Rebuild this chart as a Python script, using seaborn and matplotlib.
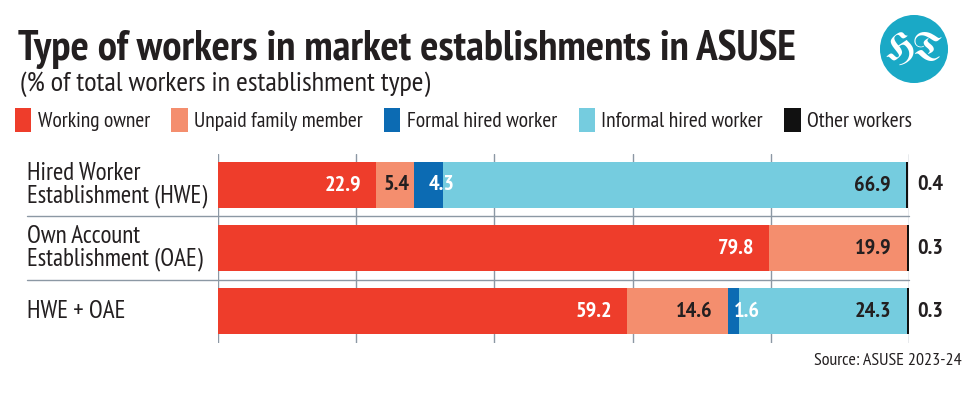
import numpy as np
import pandas as pd
import matplotlib
matplotlib.use("Agg")
import matplotlib.pyplot as plt
from matplotlib.patches import Patch, Circle
import seaborn as sns

# ========== DATOS ==========
categories = ["Hired Worker\nEstablishment (HWE)", "Own Account\nEstablishment (OAE)", "HWE + OAE"]
series_names = ["Working owner", "Unpaid family member", "Formal hired worker",
                "Informal hired worker", "Other workers"]
working_owner = [22.9, 79.8, 59.2]
unpaid_family = [5.4, 19.9, 14.6]
formal_hired = [4.3, 0.0, 1.6]
informal_hired = [66.9, 0.0, 24.3]
other_workers = [0.4, 0.3, 0.3]

colors = ["#EE3D2B", "#F48E6E", "#0C6BB3", "#75CCDF", "#111111"]
label_colors = ["white", "#231F20", "white", "#231F20", "#231F20"]
x_ticks = [0, 20, 40, 60, 80, 100]

# ========== ESTILO ==========
sns.set_theme(style="white")
plt.rcParams["font.family"] = ["PT Sans Narrow", "Roboto Condensed", "DejaVu Sans"]
dark = "#231F20"

df = pd.DataFrame({
    "category": categories,
    series_names[0]: working_owner,
    series_names[1]: unpaid_family,
    series_names[2]: formal_hired,
    series_names[3]: informal_hired,
    series_names[4]: other_workers,
})
cum = df[series_names].cumsum(axis=1)

fig = plt.figure(figsize=(9.7, 4.03), dpi=100)
ax = fig.add_axes([218 / 970, 1 - 343 / 403, 691 / 970, 189 / 403])

# barras apiladas: se dibuja el acumulado de atrás hacia delante
for i in range(len(series_names) - 1, -1, -1):
    sns.barplot(x=cum[series_names[i]], y=df["category"], color=colors[i],
                orient="h", width=0.73, ax=ax, saturation=1, linewidth=0)

ax.set_xlim(0, 100)
ax.set_ylim(2.5, -0.49)
ax.set_xticks(x_ticks)
ax.set_xticklabels([])
ax.set_yticklabels([])
ax.set_xlabel("")
ax.set_ylabel("")
ax.tick_params(length=0)
ax.grid(axis="x", color="#8C98A4", linewidth=1)
ax.set_axisbelow(True)
for s in ax.spines.values():
    s.set_visible(False)

# separadores horizontales
for yy in [0.49, 1.5]:
    ax.axhline(yy, xmin=-0.276, xmax=1.0, color="#8C98A4", linewidth=1, clip_on=False)

# etiquetas de categoría
for j, cat in enumerate(categories):
    ax.text(-0.276, j, cat, transform=ax.get_yaxis_transform(), ha="left", va="center",
            fontsize=18, color=dark, linespacing=0.98)

# etiquetas de valores
for j in range(len(categories)):
    left = 0
    for i, name in enumerate(series_names[:-1]):
        v = df.loc[j, name]
        if v > 0:
            if v < 5:
                ax.text(left + v / 2, j, f"{v:.1f}", ha="left", va="center", fontsize=16,
                        fontweight="bold", color=label_colors[i])
            else:
                pad = 0.6 if v < 8 else 2.2
                ax.text(left + v - pad, j, f"{v:.1f}", ha="right", va="center", fontsize=16,
                        fontweight="bold", color=label_colors[i])
        left += v
    ax.text(101.2, j, f"{df.loc[j, series_names[-1]]:.1f}", ha="left", va="center",
            fontsize=16, fontweight="bold", color=dark, clip_on=False)

# título y subtítulo
fig.text(18 / 970, 1 - 60 / 403, "Type of workers in market establishments in ASUSE",
         fontsize=31, fontweight="bold", color=dark, ha="left", va="baseline")
fig.text(20 / 970, 1 - 91 / 403, "(% of total workers in establishment type)",
         fontsize=20.5, color=dark, ha="left", va="baseline")

# leyenda
handles = [Patch(facecolor=c, edgecolor="none") for c in colors]
fig.legend(handles, series_names, ncol=5, loc="center left",
           bbox_to_anchor=(15 / 970, 1 - 120 / 403), frameon=False, fontsize=15.5,
           borderpad=0, borderaxespad=0,
           handlelength=0.75, handleheight=1.35, handletextpad=0.3, columnspacing=1.0,
           labelcolor=dark)

# fuente
fig.text(962 / 970, 1 - 361 / 403, "Source: ASUSE 2023-24", fontsize=13, color=dark,
         ha="right", va="center")

# logo HT
lax = fig.add_axes([880 / 970, 1 - 83 / 403, 68 / 970, 68 / 403])
lax.set_xlim(-1, 1)
lax.set_ylim(-1, 1)
lax.set_aspect("equal")
lax.axis("off")
lax.add_patch(Circle((0, 0), 0.98, color="#1AA9C6"))
lax.text(0, -0.02, "HT", ha="center", va="center", color="white", fontsize=28,
         family=["UnifrakturMaguntia", "UnifrakturCook", "DejaVu Serif"])

fig.savefig("out.png", dpi=100)
